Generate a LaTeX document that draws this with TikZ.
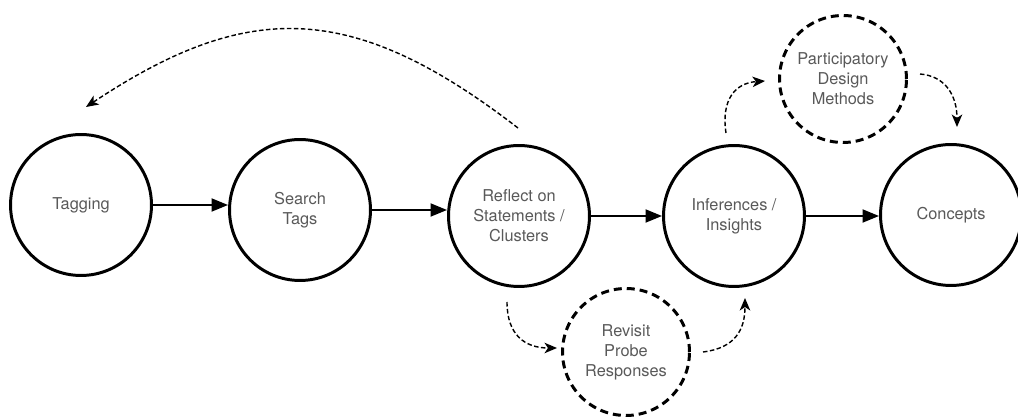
\documentclass[tikz,border=0pt]{standalone}
\usepackage{fontspec}
\setmainfont{TeX Gyre Heros}
\usepackage{tikz}
\usetikzlibrary{arrows.meta}
\definecolor{labelgray}{HTML}{595959}

\begin{document}
\begin{tikzpicture}[x=0.02cm,y=-0.02cm,
  stage/.style={circle,draw,line width=1.7pt,minimum size=2.82cm,inner sep=0pt,
    align=center,text=labelgray,font=\fontsize{9.3}{11.3}\selectfont},
  extra/.style={stage,dash pattern=on 0.16cm off 0.1cm,minimum size=2.54cm},
  flow/.style={line width=1.1pt,-{Triangle[length=0.33cm,width=0.26cm]}},
  loop/.style={line width=0.8pt,dash pattern=on 0.09cm off 0.05cm,
    -{Stealth[length=0.25cm,width=0.21cm,inset=0.07cm]}}]
\clip (0,0) rectangle (1018,418);
% main chain
\node[stage] (tag) at (81,205) {Tagging};
\node[stage] (search) at (300,210) {Search\\Tags};
\node[stage] (reflect) at (519,216) {Reflect on\\Statements /\\Clusters};
\node[stage] (infer) at (734,216) {Inferences /\\Insights};
\node[stage] (concept) at (951,215) {Concepts};
% side steps
\node[extra] (design) at (843,79) {Participatory\\Design\\Methods};
\node[extra] (revisit) at (626,352) {Revisit\\Probe\\Responses};
\foreach \a/\b in {tag/search,search/reflect,reflect/infer,infer/concept}
{
  \draw[flow] (\a.east) -- (\a.east -| \b.west);
}
% dashed loops
\coordinate (back-out) at (518,128);
\coordinate (back-in) at (86,107);
\coordinate (up-out) at (726,133);
\coordinate (up-in) at (765,81);
\coordinate (over-out) at (920,74);
\coordinate (over-in) at (957,127);
\coordinate (down-out) at (507,302);
\coordinate (down-in) at (557,348);
\coordinate (rise-out) at (703,352);
\coordinate (rise-in) at (745,298);
\draw[loop] (back-out) .. controls (352,0) and (247,0) .. (back-in);
\draw[loop] (up-out) .. controls (721,100) and (735,83) .. (up-in);
\draw[loop] (over-out) .. controls (945,76) and (957,95) .. (over-in);
\draw[loop] (down-out) .. controls (507,335) and (525,348) .. (down-in);
\draw[loop] (rise-out) .. controls (735,348) and (745,330) .. (rise-in);
\end{tikzpicture}
\end{document}
